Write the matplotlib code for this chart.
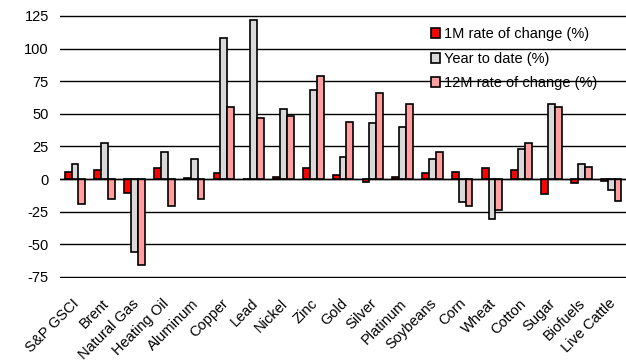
import matplotlib
matplotlib.use("Agg")
import matplotlib.pyplot as plt
import matplotlib.transforms as mtransforms
import numpy as np

plt.rcParams['font.family'] = ['Liberation Sans', 'DejaVu Sans']
plt.rcParams['axes.unicode_minus'] = False

categories = ["S&P GSCI", "Brent", "Natural Gas", "Heating Oil", "Aluminum", "Copper",
              "Lead", "Nickel", "Zinc", "Gold", "Silver", "Platinum", "Soybeans",
              "Corn", "Wheat", "Cotton", "Sugar", "Biofuels", "Live Cattle"]

one_month = [5.5, 7.3, -11, 8.6, 0.5, 4.5, 0.3, 1.5, 8.3, 3.2, -2.5, 1.5, 4.8,
             5.8, 8.3, 7.1, -11.2, -3, -1.5]
year_to_date = [11.4, 27.5, -56, 20.6, 15.2, 108.3, 122, 53.7, 68.6, 16.8, 42.7, 39.8, 15.2,
                -17.8, -30.4, 22.9, 57.3, 11.4, -8]
twelve_month = [-19, -15, -66, -20.4, -15, 55, 46.5, 48.3, 79.4, 43.7, 65.8, 57.5, 20.9,
                -20.6, -23.5, 27.5, 55, 9.6, -16.5]

series_labels = ["1M rate of change (%)", "Year to date (%)", "12M rate of change (%)"]
colors = ["#FF0000", "#D9D9D9", "#FF9F9F"]

fig = plt.figure(figsize=(6.26, 3.61), dpi=100)
ax = fig.add_axes([0.096, 0.2291, 0.904, 0.7302])

x = np.arange(len(categories))
w = 0.23
for i, (vals, lab, col) in enumerate(zip([one_month, year_to_date, twelve_month], series_labels, colors)):
    ax.bar(x + (i - 1) * w, vals, width=w, color=col, edgecolor="black", linewidth=1.2,
           label=lab, zorder=3)

ax.set_xlim(-0.5, len(categories) - 0.5)
ax.set_ylim(-76, 126)
ax.set_yticks(np.arange(-75, 126, 25))
ax.yaxis.grid(True, color="black", linewidth=1.0, zorder=0)
ax.axhline(0, color="black", linewidth=1.0, zorder=4)
for s in ax.spines.values():
    s.set_visible(False)
ax.tick_params(axis="y", length=0, labelsize=10.5, colors="black", pad=8)
ax.tick_params(axis="x", length=0, labelsize=10.5, colors="black", pad=13)
ax.set_xticks(x)
ax.set_xticklabels(categories, rotation=45, ha="right", va="top", rotation_mode="anchor")
shift = mtransforms.ScaledTranslation(-3 / 100, 0, fig.dpi_scale_trans)
for lbl in ax.get_xticklabels():
    lbl.set_transform(lbl.get_transform() + shift)

leg = ax.legend(loc="upper left", bbox_to_anchor=(0.6555, 0.952), frameon=False, fontsize=10.5,
                handlelength=0.62, handleheight=0.68, handletextpad=0.3, labelspacing=0.72,
                borderaxespad=0, borderpad=0)

fig.savefig("out.png", dpi=100)
